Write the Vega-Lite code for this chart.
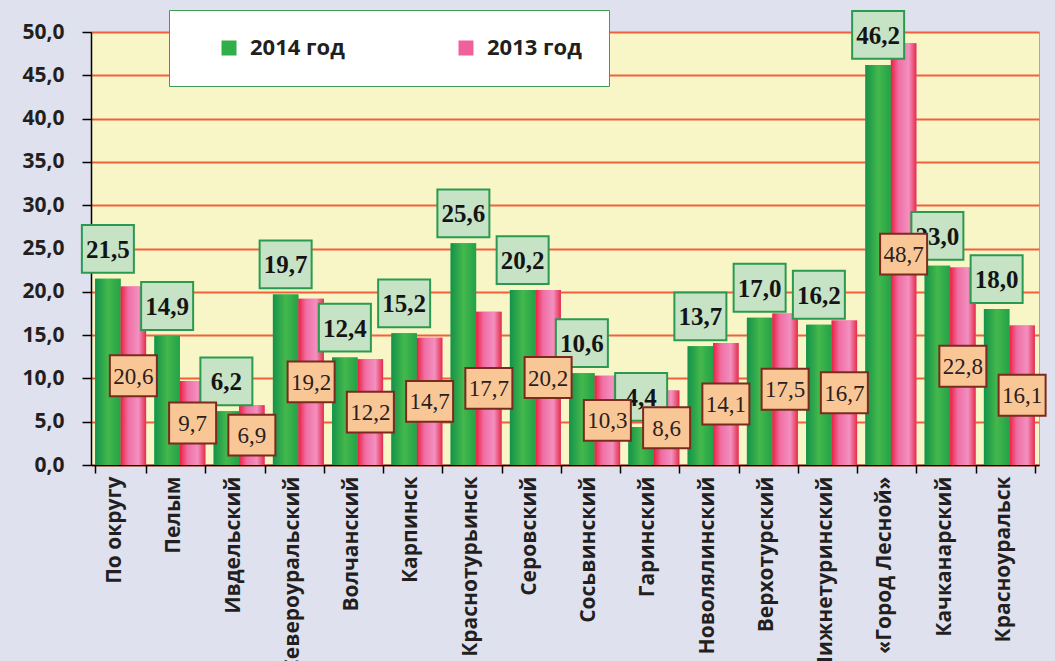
{
  "$schema": "https://vega.github.io/schema/vega-lite/v6.json",
  "width": 948,
  "height": 433,
  "autosize": {"type": "none"},
  "padding": {"left": 91, "top": 32, "right": 16, "bottom": 196},
  "background": "#dfe1ee",
  "config": {
    "locale": {"number": {"decimal": ",", "thousands": " ", "grouping": [3], "currency": ["", ""]}},
    "view": {"fill": "#f8f6c6", "stroke": "#a9a9a9", "strokeWidth": 1},
    "font": "Open Sans"
  },
  "data": {
    "values": [
      {"region": "По округу", "year": "2014 год", "value": 21.5},
      {"region": "По округу", "year": "2013 год", "value": 20.6},
      {"region": "Пелым", "year": "2014 год", "value": 14.9},
      {"region": "Пелым", "year": "2013 год", "value": 9.7},
      {"region": "Ивдельский", "year": "2014 год", "value": 6.2},
      {"region": "Ивдельский", "year": "2013 год", "value": 6.9},
      {"region": "Североуральский", "year": "2014 год", "value": 19.7},
      {"region": "Североуральский", "year": "2013 год", "value": 19.2},
      {"region": "Волчанский", "year": "2014 год", "value": 12.4},
      {"region": "Волчанский", "year": "2013 год", "value": 12.2},
      {"region": "Карпинск", "year": "2014 год", "value": 15.2},
      {"region": "Карпинск", "year": "2013 год", "value": 14.7},
      {"region": "Краснотурьинск", "year": "2014 год", "value": 25.6},
      {"region": "Краснотурьинск", "year": "2013 год", "value": 17.7},
      {"region": "Серовский", "year": "2014 год", "value": 20.2},
      {"region": "Серовский", "year": "2013 год", "value": 20.2},
      {"region": "Сосьвинский", "year": "2014 год", "value": 10.6},
      {"region": "Сосьвинский", "year": "2013 год", "value": 10.3},
      {"region": "Гаринский", "year": "2014 год", "value": 4.4},
      {"region": "Гаринский", "year": "2013 год", "value": 8.6},
      {"region": "Новолялинский", "year": "2014 год", "value": 13.7},
      {"region": "Новолялинский", "year": "2013 год", "value": 14.1},
      {"region": "Верхотурский", "year": "2014 год", "value": 17.0},
      {"region": "Верхотурский", "year": "2013 год", "value": 17.5},
      {"region": "Нижнетуринский", "year": "2014 год", "value": 16.2},
      {"region": "Нижнетуринский", "year": "2013 год", "value": 16.7},
      {"region": "«Город Лесной»", "year": "2014 год", "value": 46.2},
      {"region": "«Город Лесной»", "year": "2013 год", "value": 48.7},
      {"region": "Качканарский", "year": "2014 год", "value": 23.0},
      {"region": "Качканарский", "year": "2013 год", "value": 22.8},
      {"region": "Красноуральск", "year": "2014 год", "value": 18.0},
      {"region": "Красноуральск", "year": "2013 год", "value": 16.1}
    ]
  },
  "encoding": {
    "x": {
      "field": "region",
      "type": "nominal",
      "sort": null,
      "scale": {"paddingInner": 0.14, "paddingOuter": 0.07},
      "axis": {
        "title": null,
        "labelAngle": -90,
        "labelFont": "Open Sans",
        "labelFontSize": 21,
        "labelFontWeight": "bold",
        "labelColor": "#231f20",
        "labelLimit": 400,
        "labelPadding": 3,
        "labelOffset": -6,
        "domainColor": "#000000",
        "domainWidth": 1.5,
        "tickColor": "#000000",
        "tickWidth": 1.5,
        "tickSize": 8,
        "tickBand": "extent"
      }
    },
    "xOffset": {
      "field": "year",
      "type": "nominal",
      "sort": null,
      "scale": {"domain": ["2014 год", "2013 год"], "paddingInner": 0}
    }
  },
  "layer": [
    {
      "encoding": {
        "y": {
          "field": "value",
          "type": "quantitative",
          "scale": {"domain": [0, 50], "nice": false},
          "axis": {
            "title": null,
            "values": [0, 5, 10, 15, 20, 25, 30, 35, 40, 45, 50],
            "format": ".1f",
            "labelFont": "Open Sans",
            "labelFontSize": 21,
            "labelFontWeight": "bold",
            "labelColor": "#231f20",
            "labelPadding": 18,
            "grid": true,
            "gridColor": "#f2603c",
            "gridWidth": 2,
            "domainColor": "#000000",
            "domainWidth": 1.5,
            "tickColor": "#000000",
            "tickWidth": 1.5,
            "tickSize": 9
          }
        }
      },
      "layer": [
        {
          "mark": {"type": "bar"},
          "encoding": {
            "color": {
              "field": "year",
              "type": "nominal",
              "scale": {"domain": ["2014 год", "2013 год"], "range": ["#2fae4a", "#f0609a"]},
              "legend": {
                "orient": "none",
                "legendX": 78,
                "legendY": -22,
                "direction": "horizontal",
                "title": " ",
                "titleOrient": "left",
                "titlePadding": 22,
                "fillColor": "#ffffff",
                "strokeColor": "#3c9c58",
                "padding": 27,
                "columnPadding": 110,
                "symbolType": "square",
                "symbolSize": 225,
                "symbolStrokeWidth": 0,
                "symbolOpacity": 1,
                "labelFont": "Open Sans",
                "labelFontSize": 22,
                "labelFontWeight": "bold",
                "labelColor": "#231f20",
                "labelOffset": 10
              }
            }
          }
        },
        {
          "transform": [{"filter": "datum.year == '2014 год'"}],
          "mark": {
            "type": "bar",
            "fill": {
              "gradient": "linear", "x1": 0, "y1": 0, "x2": 1, "y2": 0,
              "stops": [
                {"offset": 0, "color": "#13924a"},
                {"offset": 0.5, "color": "#44b84c"},
                {"offset": 1, "color": "#22a248"}
              ]
            }
          }
        },
        {
          "transform": [{"filter": "datum.year == '2013 год'"}],
          "mark": {
            "type": "bar",
            "fill": {
              "gradient": "linear", "x1": 0, "y1": 0, "x2": 1, "y2": 0,
              "stops": [
                {"offset": 0, "color": "#ea2040"},
                {"offset": 0.3, "color": "#f06ea4"},
                {"offset": 0.7, "color": "#f290c0"},
                {"offset": 1, "color": "#e62c4a"}
              ]
            }
          }
        },
        {
          "transform": [{"filter": "datum.year == '2014 год'"}],
          "mark": {
            "type": "point",
            "shape": "M-1,-0.92L1,-0.92L1,0.92L-1,0.92Z",
            "size": 2704,
            "filled": true,
            "fill": "#c6e3c6",
            "stroke": "#2a9a50",
            "strokeWidth": 2,
            "opacity": 1,
            "yOffset": -30
          }
        },
        {
          "transform": [{"filter": "datum.year == '2014 год'"}],
          "mark": {
            "type": "text",
            "font": "Liberation Serif",
            "fontSize": 25,
            "fontWeight": "bold",
            "color": "#141414",
            "baseline": "middle",
            "align": "center",
            "yOffset": -29
          },
          "encoding": {"text": {"field": "value", "type": "quantitative", "format": ".1f"}}
        }
      ]
    },
    {
      "transform": [{"filter": "datum.year == '2013 год'"}],
      "encoding": {
        "y": {
          "field": "value",
          "type": "quantitative",
          "scale": {"domain": [0, 100], "nice": false},
          "axis": null
        }
      },
      "layer": [
        {
          "mark": {
            "type": "point",
            "shape": "M-1,-0.87L1,-0.87L1,0.87L-1,0.87Z",
            "size": 2209,
            "filled": true,
            "fill": "#f9c796",
            "stroke": "#7b2b1e",
            "strokeWidth": 2,
            "opacity": 1
          }
        },
        {
          "mark": {
            "type": "text",
            "font": "Liberation Serif",
            "fontSize": 23,
            "color": "#2a2020",
            "baseline": "middle",
            "align": "center",
            "yOffset": 1
          },
          "encoding": {"text": {"field": "value", "type": "quantitative", "format": ".1f"}}
        }
      ]
    }
  ],
  "resolve": {"scale": {"y": "independent"}}
}
